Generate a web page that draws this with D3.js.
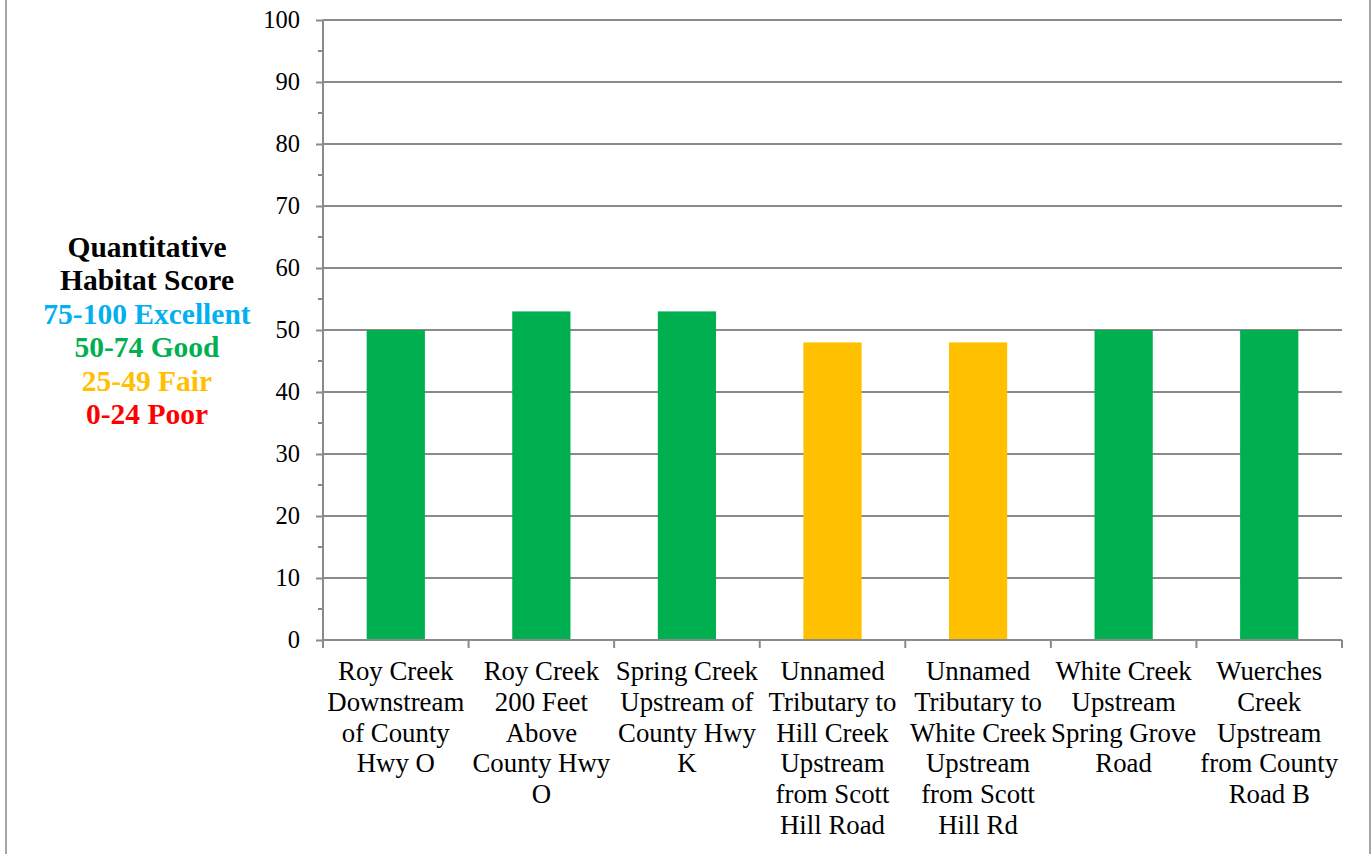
<!DOCTYPE html>
<html><head><meta charset="utf-8">
<script src="https://cdn.jsdelivr.net/npm/d3@7"></script>
<style>body{margin:0;background:#fff}svg{display:block}</style>
</head><body>
<script>
const categories = [
  "Roy Creek Downstream of County Hwy O",
  "Roy Creek 200 Feet Above County Hwy O",
  "Spring Creek Upstream of County Hwy K",
  "Unnamed Tributary to Hill Creek Upstream from Scott Hill Road",
  "Unnamed Tributary to White Creek Upstream from Scott Hill Rd",
  "White Creek Upstream Spring Grove Road",
  "Wuerches Creek Upstream from County Road B"
];
const categoryLines = [
  ["Roy Creek","Downstream","of County","Hwy O"],
  ["Roy Creek","200 Feet","Above","County Hwy","O"],
  ["Spring Creek","Upstream of","County Hwy","K"],
  ["Unnamed","Tributary to","Hill Creek","Upstream","from Scott","Hill Road"],
  ["Unnamed","Tributary to","White Creek","Upstream","from Scott","Hill Rd"],
  ["White Creek","Upstream","Spring Grove","Road"],
  ["Wuerches","Creek","Upstream","from County","Road B"]
];
const scores = [50, 53, 53, 48, 48, 50, 50];
const barColors = ["#00B050","#00B050","#00B050","#FFC000","#FFC000","#00B050","#00B050"];
const yTicks = [0,10,20,30,40,50,60,70,80,90,100];
const legendLines = ["Quantitative","Habitat Score","75-100 Excellent","50-74 Good","25-49 Fair","0-24 Poor"];
const legendColors = ["#000000","#000000","#00B0F0","#00B050","#FFC000","#FF0000"];

(function(){
const W = 1371, H = 854;
const pLeft = 323, pRight = 1342, pTop = 20, pBottom = 640;
const svg = d3.select("body").append("svg").attr("width", W).attr("height", H);
const font = "Liberation Serif";
const grey = "#8a8a8a";

// outer border lines
svg.append("line").attr("x1",6).attr("x2",6).attr("y1",0).attr("y2",H).attr("stroke",grey).attr("stroke-width",1.5);
svg.append("line").attr("x1",1370).attr("x2",1370).attr("y1",0).attr("y2",H).attr("stroke",grey).attr("stroke-width",1.5);

const x = d3.scaleBand().domain(categories).range([pLeft, pRight]).padding(0);
const y = d3.scaleLinear().domain([0,100]).range([pBottom, pTop]);

// gridlines
svg.append("g").selectAll("line").data(yTicks.filter(d=>d>0)).join("line")
  .attr("x1", pLeft).attr("x2", pRight)
  .attr("y1", d=>y(d)).attr("y2", d=>y(d))
  .attr("stroke", grey).attr("stroke-width", 2);

// bars
const bw = x.bandwidth()*0.4;
svg.append("g").selectAll("rect").data(scores).join("rect")
  .attr("x", (d,i)=>x(categories[i]) + x.bandwidth()/2 - bw/2)
  .attr("width", bw)
  .attr("y", d=>y(d))
  .attr("height", d=>pBottom - y(d))
  .attr("fill", (d,i)=>barColors[i]);

// y axis
const yAxis = d3.axisLeft(y).tickValues(yTicks).tickSize(7).tickPadding(16);
const gy = svg.append("g").attr("transform", `translate(${pLeft},0)`).call(yAxis)
  .attr("font-family", font).attr("font-size", 24.5);
gy.select(".domain").attr("stroke", grey).attr("stroke-width", 2).attr("d", `M0,${pTop}V${pBottom}`);
gy.selectAll(".tick line").attr("stroke", grey).attr("stroke-width", 2);
gy.selectAll(".tick text").attr("fill","#000");
// minor ticks
const minor = d3.range(5,100,10);
svg.append("g").selectAll("line").data(minor).join("line")
  .attr("x1", pLeft-5).attr("x2", pLeft).attr("y1", d=>y(d)).attr("y2", d=>y(d))
  .attr("stroke", grey).attr("stroke-width", 2);

// x axis
svg.append("line").attr("x1", pLeft).attr("x2", pRight).attr("y1", pBottom).attr("y2", pBottom)
  .attr("stroke", grey).attr("stroke-width", 2);
const bounds = categories.map(c=>x(c)).concat([pRight]);
svg.append("g").selectAll("line").data(bounds).join("line")
  .attr("x1", d=>d).attr("x2", d=>d).attr("y1", pBottom).attr("y2", pBottom+8)
  .attr("stroke", grey).attr("stroke-width", 2);

const labels = svg.append("g");
categoryLines.forEach((lines, i) => {
  const cx = x(categories[i]) + x.bandwidth()/2;
  const t = labels.append("text").attr("text-anchor","middle")
    .attr("font-family", font).attr("font-size", 26.8).attr("fill","#000");
  lines.forEach((ln, j) => {
    t.append("tspan").attr("x", cx).attr("y", 680 + j*30.8).text(ln);
  });
});

// legend / axis title
const lg = svg.append("text").attr("text-anchor","middle")
  .attr("font-family", font).attr("font-size", 29.5).attr("font-weight","bold");
legendLines.forEach((ln, j) => {
  lg.append("tspan").attr("x", 147).attr("y", 257 + j*33.4).attr("fill", legendColors[j]).text(ln);
});
})();
</script>
</body></html>
